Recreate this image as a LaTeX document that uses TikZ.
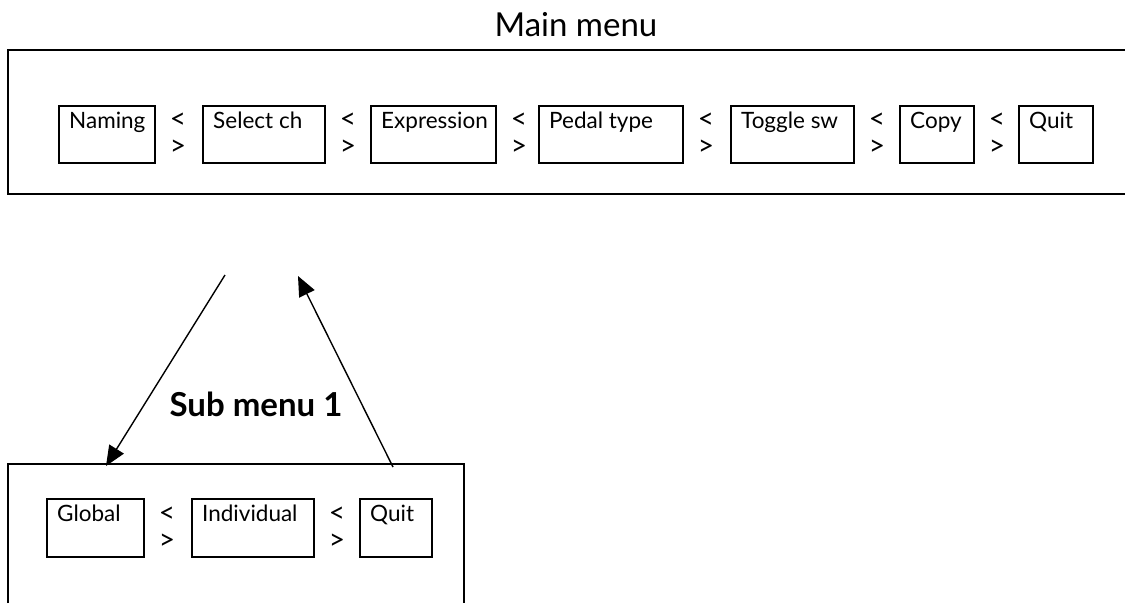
\documentclass[tikz,border=0pt]{standalone}
\usepackage{fontspec}
\setmainfont{Lato}
\usetikzlibrary{arrows.meta,calc}
\begin{document}
\begin{tikzpicture}[x=1pt,y=-1pt,
  mbox/.style={draw, line width=2.2pt, minimum height=57pt, anchor=north west, inner sep=0pt, outer sep=0pt},
  boxtext/.style={anchor=base west, inner sep=0pt, font=\fontsize{22.5}{26}\selectfont},
  sym/.style={font=\fontsize{28}{27}\selectfont, inner sep=0pt, align=center},
  frame/.style={line width=1.8pt},
  arr/.style={line width=1.4pt, -{Triangle[length=20pt,width=17pt]}}]
\useasboundingbox (0,0) rectangle (1125,603);
% title
\node[anchor=base, inner sep=0pt, font=\fontsize{33}{38}\selectfont] (title) at (576,36) {Main menu};
% main frame
\draw[frame] (1125,50) -- (8,50) -- (8,194) -- (1125,194);
% main menu boxes
\foreach \n/\x/\w/\t in {naming/59/96/Naming, selch/203/122/Select ch, expr/371/125/Expression, pedal/539/144/Pedal type, toggle/731/123/Toggle sw, copy/900/74/Copy, quit/1019/74/Quit}{
  \node[mbox, minimum width=\w pt] (\n) at (\x,106) {};
  \node[boxtext] (\n-t) at ($(\n.north west)+(10,22)$) {\t};
}
\foreach \i/\x in {1/178,2/348,3/519,4/706,5/877,6/997}{
  \node[sym] (nav\i) at (\x,134) {<\\>};
}
% sub menu
\node[anchor=base, inner sep=0pt, font=\bfseries\fontsize{33}{38}\selectfont] (subtitle) at (256,416) {Sub menu 1};
\draw[frame] (8,603) -- (8,464) -- (464,464) -- (464,603);
\foreach \n/\x/\w/\t in {global/47/97/Global, indiv/192/122/Individual, squit/360/72/Quit}{
  \node[mbox, minimum width=\w pt, minimum height=58pt] (\n) at (\x,499) {};
  \node[boxtext] (\n-t) at ($(\n.north west)+(10,22)$) {\t};
}
\foreach \i/\x in {1/167,2/337}{
  \node[sym] (snav\i) at (\x,528) {<\\>};
}
% arrows
\coordinate (a1s) at (225,275);
\coordinate (a1e) at (106,466);
\coordinate (a2s) at (393,467);
\coordinate (a2e) at (298,276);
\draw[arr] (a1s) -- (a1e);
\draw[arr] (a2s) -- (a2e);
\end{tikzpicture}
\end{document}
